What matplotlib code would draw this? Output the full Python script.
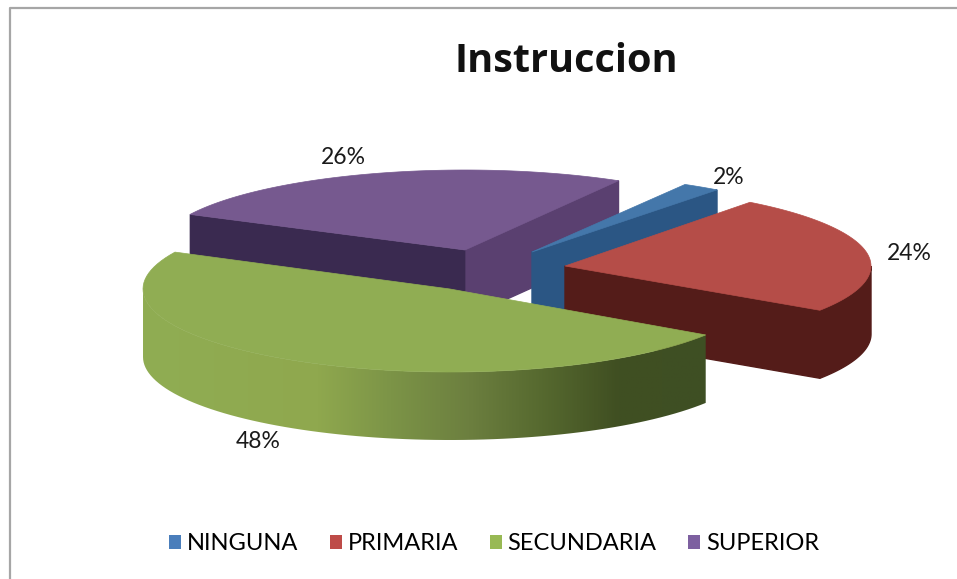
import numpy as np
import matplotlib
matplotlib.use('Agg')
import matplotlib.pyplot as plt
from matplotlib.patches import Polygon, Patch
from matplotlib.colors import LinearSegmentedColormap

categories = ['NINGUNA', 'PRIMARIA', 'SECUNDARIA', 'SUPERIOR']
values = [2, 24, 48, 26]
title = 'Instruccion'

# pixel layout of each exploded slice: apex x, apex y, radius x, radius y
apex_x = [532, 565, 450, 465]
apex_y = [252, 266, 289, 250]
radius_x = [306, 306, 307, 307]
radius_y = [78, 80, 83, 80]
label_x = [729, 909, 258, 343]
label_y = [177, 253, 441, 157]
top_colors = ['#4477aa', '#b54d48', '#90ad53', '#76598f']
cut_colors = ['#2b5684', '#541c19', '#3d5024', '#3a2a50']
cut2_colors = ['#2b5684', '#541c19', '#3d5024', '#5a4070']
legend_colors = ['#4a7ebb', '#be4b48', '#98b954', '#7d60a0']
start_angle = 60.0
depth = 68

fig = plt.figure(figsize=(9.57, 5.79), dpi=100)
ax = fig.add_axes([0, 0, 1, 1])
ax.set_xlim(0, 957)
ax.set_ylim(579, 0)
ax.axis('off')

# only top and left of the chart frame are in the shot
ax.plot([9.5, 9.5, 957], [579, 7.5, 7.5], color='#a6a6a6', lw=1.6, zorder=1)


def arc(i, a0, a1, n=80):
    t = np.radians(np.linspace(a0, a1, n))
    return np.column_stack([apex_x[i] + radius_x[i] * np.cos(t),
                            apex_y[i] - radius_y[i] * np.sin(t)])


def wall(pts):
    low = pts[::-1] + [0, depth]
    return np.vstack([pts, low])


# slice angles, clockwise from the start angle
shares = np.array(values) / sum(values) * 360
ends = start_angle - np.cumsum(shares)
starts = ends + shares

green_map = LinearSegmentedColormap.from_list('side', [
    (0.0, '#90ad53'), (0.31, '#8fa84e'), (0.44, '#7c9447'), (0.58, '#6c7f3f'),
    (0.71, '#56692f'), (0.845, '#404f22'), (1.0, '#3e4f24')])

# back to front: purple, blue, red, green
for i in [3, 0, 1, 2]:
    z = 10 + [3, 0, 1, 2].index(i) * 5
    a0, a1 = starts[i], ends[i]
    apex = np.array([[apex_x[i], apex_y[i]]])
    pts = arc(i, a0, a1)

    if i == 2:
        # outer wall with the gradient
        front = arc(i, a0, -180)
        side = Polygon(wall(front), closed=True, fc='none', ec='none', zorder=z)
        ax.add_patch(side)
        grad = np.linspace(0, 1, 256).reshape(1, -1)
        im = ax.imshow(grad, cmap=green_map, extent=(143, 706, 460, 250), aspect='auto', zorder=z)
        im.set_clip_path(side)
        ax.set_xlim(0, 957)
        ax.set_ylim(579, 0)
    else:
        # right cut edge
        ax.add_patch(Polygon(wall(np.vstack([apex, pts[-1:]])), closed=True,
                             fc=cut2_colors[i], ec=cut2_colors[i], lw=1, zorder=z))
        if i == 3:
            # left cut edge
            ax.add_patch(Polygon(wall(np.vstack([pts[:1], apex])), closed=True,
                                 fc=cut_colors[i], ec=cut_colors[i], lw=0.5, zorder=z))
        if i == 1:
            # visible part of outer wall
            ax.add_patch(Polygon(wall(arc(i, a1, 0)), closed=True,
                                 fc=cut_colors[i], ec=cut_colors[i], lw=1, zorder=z))

    ax.add_patch(Polygon(np.vstack([apex, pts]), closed=True,
                         fc=top_colors[i], ec=top_colors[i], lw=0.5, zorder=z + 1))

for i, v in enumerate(values):
    ax.text(label_x[i], label_y[i], f'{v}%', fontsize=16.5, family='Lato', color='#1a1a1a',
            ha='center', va='center', zorder=40)

ax.text(566, 62, title, fontsize=28.5, family='Open Sans', fontweight='bold', color='#111111',
        ha='center', va='center', zorder=40)

handles = [Patch(fc=c, ec='none') for c in legend_colors]
ax.legend(handles, categories, ncol=4, loc='center', bbox_to_anchor=(494 / 957, 1 - 544 / 579),
          frameon=False, handlelength=0.5, handleheight=0.5, handletextpad=0.25,
          columnspacing=1.35, prop={'family': 'Lato', 'size': 17})

fig.savefig('out.png', dpi=100)
